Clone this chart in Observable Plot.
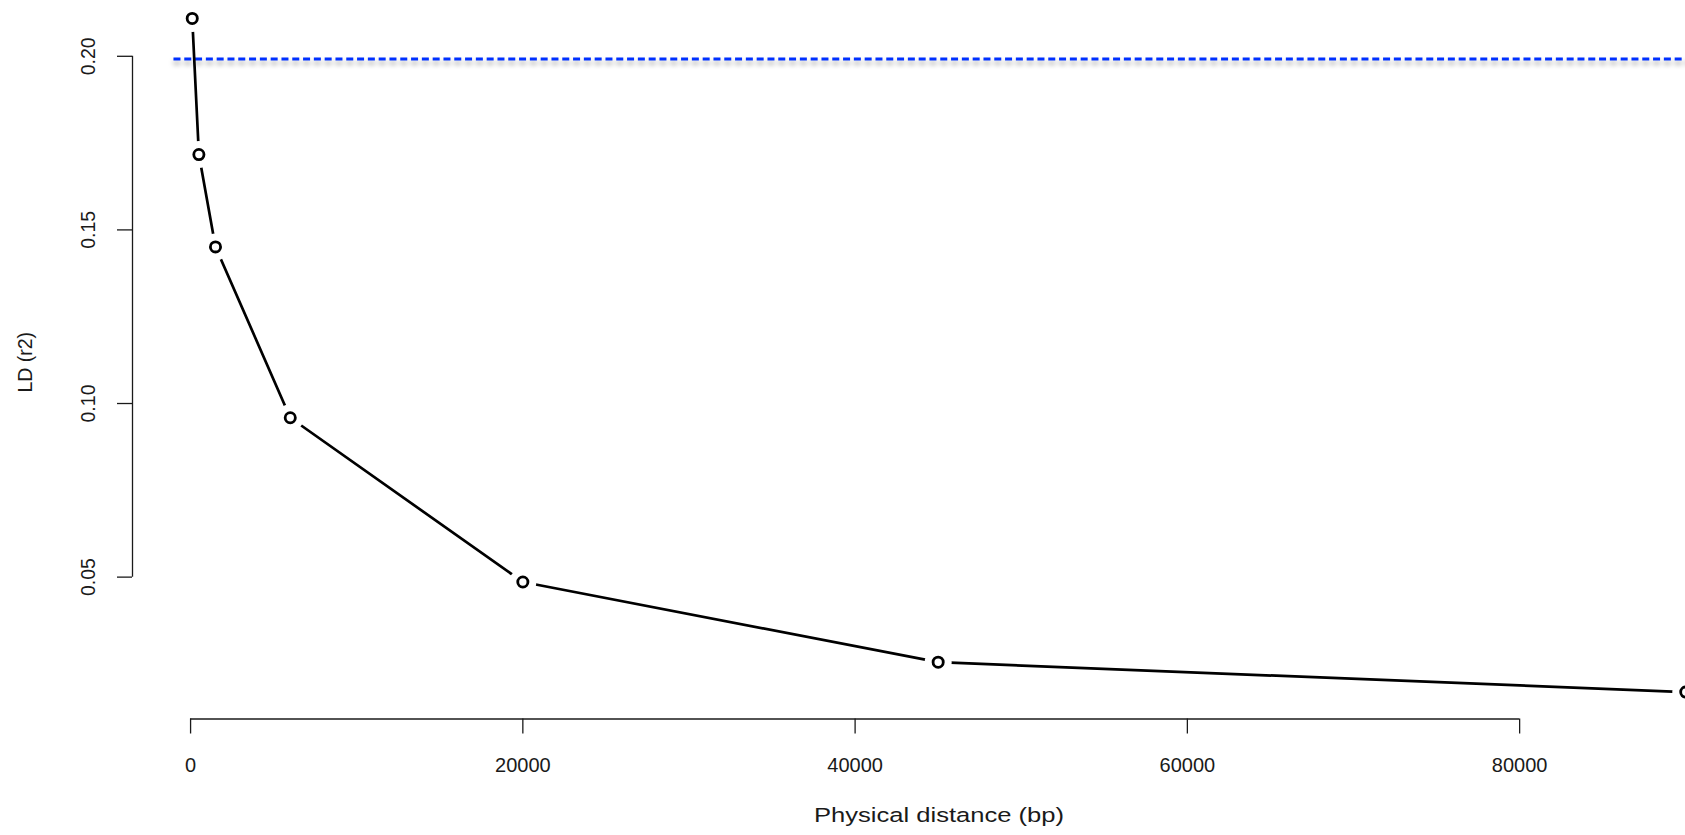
<!DOCTYPE html>
<html><head><meta charset="utf-8">
<script src="https://cdn.jsdelivr.net/npm/d3@7"></script>
<script src="https://cdn.jsdelivr.net/npm/@observablehq/plot@0.6"></script>
<style>
html,body{margin:0;padding:0;background:#fff;}
#chart{width:1685px;height:835px;overflow:hidden;}
#chart svg{display:block;}
</style></head><body><div id="chart"></div>
<script>
// ---- data ----
const distance = [100, 500, 1500, 6000, 20000, 45000, 90000];
const ldR2 = [0.2109, 0.1717, 0.1451, 0.0959, 0.0486, 0.0255, 0.0169];
const xTicks = [0, 20000, 40000, 60000, 80000];
const yTicks = [0.05, 0.10, 0.15, 0.20];
const threshold = [0.1992];
const thresholdStart = -1000;
const xTitle = "Physical distance (bp)";
const yTitle = "LD (r2)";

const data = distance.map((d, i) => ({distance: d, r2: ldR2[i]}));
// R-style axis limits: data range extended by 4% on each side
function rlim(v) { const lo = d3.min(v), hi = d3.max(v), e = (hi - lo) * 0.04; return [lo - e, hi + e]; }
const xlim = rlim(distance), ylim = rlim(ldR2);

const font = "'Liberation Sans', Arial, Helvetica, sans-serif";
const ink = "#1a1a1a";

const chart = Plot.plot({
  width: 1685, height: 835,
  marginTop: -9, marginRight: -60, marginBottom: 116.5, marginLeft: 132,
  x: {domain: xlim},
  y: {domain: ylim},
  style: {fontFamily: font, fontSize: "19px", color: ink, background: "#fff", overflow: "hidden"},
  marks: [
    Plot.ruleY(threshold, {x1: thresholdStart, x2: xlim[1], stroke: "#0030ff", strokeWidth: 3, strokeDasharray: "7,3.8"}),
    Plot.ruleX([xlim[0]], {y1: yTicks[0], y2: yTicks[yTicks.length - 1], stroke: ink, strokeWidth: 1.3}),
    Plot.ruleY([ylim[0]], {x1: xTicks[0], x2: xTicks[xTicks.length - 1], stroke: ink, strokeWidth: 1.3}),
    Plot.axisX(xTicks, {tickSize: 15, tickPadding: 24, tickFormat: d => String(d), label: null, fontSize: 20, stroke: ink, strokeWidth: 1.3}),
    Plot.axisY(yTicks, {tickSize: 15, tickFormat: () => "", label: null, stroke: ink, strokeWidth: 1.3}),
    Plot.text(yTicks, {y: d => d, frameAnchor: "left", text: d => d3.format(".2f")(d), rotate: -90, textAnchor: "middle", lineAnchor: "middle", dx: -44, fontSize: 19.5, fill: ink}),
    Plot.text([xTitle], {frameAnchor: "bottom", lineAnchor: "bottom", dy: 103, fontSize: 20.5, fill: ink}),
    Plot.text([yTitle], {frameAnchor: "left", rotate: -90, textAnchor: "middle", lineAnchor: "middle", dx: -106.5, dy: 7, fontSize: 19.5, fill: ink}),
    Plot.line(data, {x: "distance", y: "r2", stroke: "black", strokeWidth: 2.7}),
    Plot.dot(data, {x: "distance", y: "r2", r: 13.5, fill: "white", stroke: null}),
    Plot.dot(data, {x: "distance", y: "r2", r: 5.1, fill: "white", stroke: "black", strokeWidth: 2.8})
  ]
});

const dash = chart.querySelector("g[stroke-dasharray]");
if (dash) dash.style.filter = "drop-shadow(0px 4px 2.5px rgba(0,0,0,0.35))";
const xt = Array.from(chart.querySelectorAll("text")).find(t => t.textContent === xTitle);
if (xt) { xt.setAttribute("textLength", "250"); xt.setAttribute("lengthAdjust", "spacingAndGlyphs"); }

document.getElementById("chart").appendChild(chart);
</script>
</body></html>
